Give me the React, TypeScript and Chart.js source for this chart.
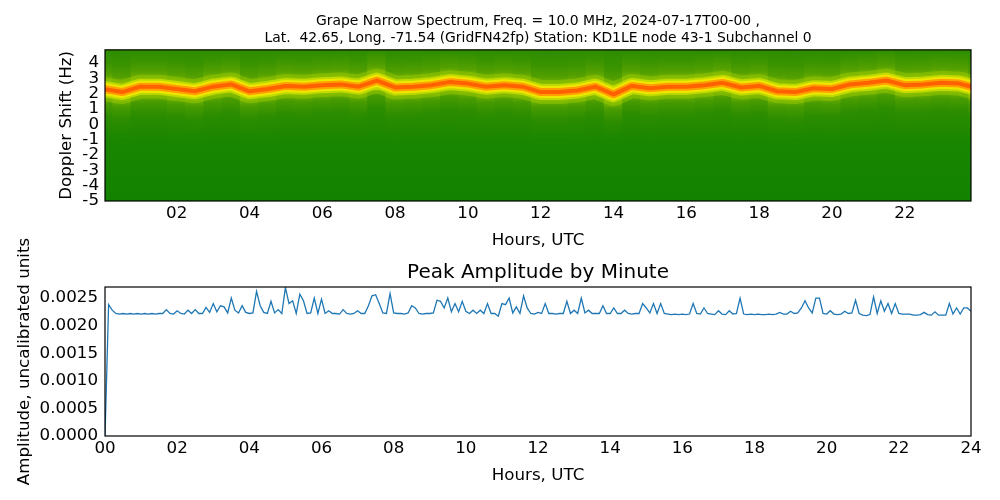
import { useEffect, useRef } from "react";
import { Chart, registerables } from "chart.js";

Chart.register(...registerables);

const FONT = "'DejaVu Sans', sans-serif";

// ---- Spectrogram (top) data ----
const FREQ_MIN = -5;
const FREQ_MAX = 4.85;
const HOUR_MIN_TOP = 0.03;
const HOUR_MAX_TOP = 23.82;
// band (carrier) Doppler centre, sampled every half hour
const bandSampleHours = [
  0, 0.5, 1, 1.5, 2, 2.5, 3, 3.5, 4, 4.5, 5, 5.5,
  6, 6.5, 7, 7.5, 8, 8.5, 9, 9.5, 10, 10.5, 11, 11.5,
  12, 12.5, 13, 13.5, 14, 14.5, 15, 15.5, 16, 16.5, 17, 17.5,
  18, 18.5, 19, 19.5, 20, 20.5, 21, 21.5, 22, 22.5, 23, 23.5, 24,
];
const bandCenterHz = [
  2.3, 2.1, 2.45, 2.45, 2.3, 2.15, 2.45, 2.6, 2.15, 2.3, 2.5, 2.45,
  2.55, 2.6, 2.45, 2.85, 2.4, 2.45, 2.55, 2.75, 2.65, 2.45, 2.55, 2.45,
  2.1, 2.1, 2.2, 2.45, 1.95, 2.5, 2.35, 2.45, 2.45, 2.55, 2.7, 2.4,
  2.5, 2.15, 2.1, 2.35, 2.3, 2.6, 2.7, 2.85, 2.55, 2.6, 2.7, 2.65, 2.35,
];
const freqTicks = [-5, -4, -3, -2, -1, 0, 1, 2, 3, 4];
// band rendering layers: stroke width (px) and colour, outermost first
const bandLayers: [number, string][] = [
  [24, "rgba(175,212,0,0.35)"],
  [16, "rgba(215,228,0,0.7)"],
  [12, "rgb(238,232,0)"],
  [8, "rgb(255,160,0)"],
  [4, "rgb(255,96,0)"],
];

// ---- Peak amplitude (bottom) data, one sample every 6 minutes, units of 1e-5 ----
const AMP_STEP_HOURS = 0.1;
const AMP_UNIT = 1e-5;
const amplitudeE5 = [
  0, 238, 228, 222, 221, 222, 221, 222, 221, 222,
  221, 222, 221, 222, 221, 222, 222, 229, 222, 221,
  227, 222, 221, 228, 222, 229, 222, 222, 233, 224,
  240, 225, 236, 234, 223, 250, 228, 223, 236, 224,
  222, 223, 262, 236, 224, 222, 244, 223, 229, 222,
  269, 240, 245, 222, 257, 245, 222, 223, 250, 222,
  248, 222, 227, 222, 222, 221, 229, 222, 221, 222,
  227, 222, 222, 236, 254, 256, 240, 223, 222, 258,
  223, 222, 222, 221, 223, 236, 232, 222, 221, 222,
  222, 223, 246, 244, 232, 250, 225, 240, 225, 244,
  226, 222, 228, 222, 228, 222, 240, 222, 222, 217,
  240, 238, 250, 223, 234, 222, 254, 232, 222, 221,
  224, 222, 240, 222, 222, 221, 222, 222, 244, 222,
  228, 222, 250, 223, 228, 222, 222, 222, 236, 222,
  222, 232, 222, 222, 228, 222, 221, 222, 222, 240,
  232, 223, 240, 222, 240, 222, 221, 220, 221, 220,
  221, 220, 221, 240, 222, 221, 232, 222, 221, 220,
  227, 221, 220, 227, 221, 222, 250, 221, 220, 221,
  220, 221, 220, 220, 221, 220, 221, 224, 221, 221,
  226, 222, 223, 232, 245, 232, 223, 250, 250, 222,
  221, 227, 221, 220, 221, 226, 222, 223, 246, 222,
  219, 218, 220, 252, 222, 245, 226, 240, 222, 240,
  222, 221, 221, 221, 219, 219, 220, 224, 220, 219,
  225, 219, 219, 219, 240, 221, 232, 221, 232, 232,
  226,
];
const ampTicks = [0, 0.0005, 0.001, 0.0015, 0.002, 0.0025];
const AMP_MAX = 0.0027;

const titleTop = [
  "Grape Narrow Spectrum, Freq. = 10.0 MHz, 2024-07-17T00-00 ,",
  "Lat.  42.65, Long. -71.54 (GridFN42fp) Station: KD1LE node 43-1 Subchannel 0",
];

const framePlugin = {
  id: "frame",
  afterDraw(chart: any) {
    const { ctx, chartArea: a } = chart;
    ctx.save();
    ctx.strokeStyle = "#000";
    ctx.lineWidth = 1.2;
    ctx.strokeRect(a.left, a.top, a.right - a.left, a.bottom - a.top);
    ctx.restore();
  },
};

function haloFill(ctx: any) {
  const chart = ctx.chart;
  const y = chart.scales && chart.scales.y;
  if (ctx.type !== "data" || !y || !chart.chartArea) return "rgb(18,130,0)";
  const c = bandCenterHz[ctx.dataIndex];
  const p0 = y.getPixelForValue(FREQ_MIN);
  const p1 = y.getPixelForValue(FREQ_MAX);
  const g = chart.ctx.createLinearGradient(0, p0, 0, p1);
  const pos = (v: number) =>
    Math.min(1, Math.max(0, (v - FREQ_MIN) / (FREQ_MAX - FREQ_MIN)));
  const stops: [number, string][] = [
    [FREQ_MIN, "rgb(18,130,0)"],
    [-1.0, "rgb(26,134,0)"],
    [c - 1.8, "rgb(44,141,0)"],
    [c - 1.0, "rgb(72,155,0)"],
    [c - 0.5, "rgb(118,180,0)"],
    [c, "rgb(150,198,0)"],
    [c + 0.5, "rgb(118,180,0)"],
    [c + 1.0, "rgb(82,159,0)"],
    [c + 1.7, "rgb(58,148,0)"],
    [FREQ_MAX, "rgb(44,141,0)"],
  ];
  for (const [v, col] of stops) g.addColorStop(pos(v), col);
  return g;
}

const tickFont = { family: FONT, size: 16.7 };
const labelFont = { family: FONT, size: 16.7 };

export default function App() {
  const topRef = useRef<HTMLCanvasElement>(null);
  const botRef = useRef<HTMLCanvasElement>(null);

  useEffect(() => {
    const bandPoints = bandSampleHours.map((h, i) => ({ x: h, y: bandCenterHz[i] }));
    const lineSets = bandLayers.map(([w, col], k) => ({
      type: "line",
      data: bandPoints,
      borderColor: col,
      borderWidth: w,
      borderJoinStyle: "round",
      borderCapStyle: "round",
      pointRadius: 0,
      tension: 0,
      fill: false,
      order: bandLayers.length - k,
    }));

    const top = new Chart(topRef.current as HTMLCanvasElement, {
      type: "bar",
      data: {
        datasets: [
          {
            type: "bar",
            data: bandSampleHours.map((h) => ({ x: h, y: [FREQ_MIN, FREQ_MAX] })) as any,
            backgroundColor: haloFill as any,
            borderWidth: 0,
            barPercentage: 1,
            categoryPercentage: 1,
            grouped: false,
            inflateAmount: 0.6,
            order: 20,
          } as any,
          ...(lineSets as any[]),
        ],
      },
      options: {
        animation: false,
        responsive: false,
        devicePixelRatio: 1,
        layout: { padding: { left: 0, right: 29, top: 0, bottom: 0 } },
        plugins: {
          legend: { display: false },
          tooltip: { enabled: false },
          title: {
            display: true,
            text: titleTop,
            fullSize: false,
            color: "#000",
            font: { family: FONT, size: 13.9, weight: "normal", lineHeight: 1.2 },
            padding: { top: 13.5, bottom: 3 },
          },
        },
        scales: {
          x: {
            type: "linear",
            offset: false,
            min: HOUR_MIN_TOP,
            max: HOUR_MAX_TOP,
            grid: { display: false, drawTicks: false },
            border: { display: false },
            afterFit: (s: any) => {
              s.height = 59;
            },
            ticks: {
              stepSize: 2,
              includeBounds: false,
              autoSkip: false,
              maxRotation: 0,
              padding: 3,
              color: "#000",
              font: tickFont,
              callback: (v: any) => String(v).padStart(2, "0"),
            },
            title: {
              display: true,
              text: "Hours, UTC",
              color: "#000",
              font: labelFont,
              padding: { top: 0, bottom: 9 },
            },
          },
          y: {
            type: "linear",
            min: FREQ_MIN,
            max: FREQ_MAX,
            grid: { display: false, drawTicks: false },
            border: { display: false },
            afterFit: (s: any) => {
              s.width = 105;
            },
            afterBuildTicks: (s: any) => {
              s.ticks = freqTicks.map((v) => ({ value: v }));
            },
            ticks: {
              padding: 6,
              autoSkip: false,
              color: "#000",
              font: tickFont,
              callback: (v: any) => String(v),
            },
            title: {
              display: true,
              text: "Doppler Shift (Hz)",
              color: "#000",
              font: labelFont,
              padding: { top: 57, bottom: 0 },
            },
          },
        },
      } as any,
      plugins: [framePlugin],
    });

    const bot = new Chart(botRef.current as HTMLCanvasElement, {
      type: "line",
      data: {
        datasets: [
          {
            data: amplitudeE5.map((v, i) => ({ x: i * AMP_STEP_HOURS, y: v * AMP_UNIT })),
            borderColor: "#1f77b4",
            borderWidth: 1.3,
            pointRadius: 0,
            tension: 0,
            fill: false,
          },
        ],
      },
      options: {
        animation: false,
        responsive: false,
        devicePixelRatio: 1,
        layout: { padding: { left: 0, right: 29, top: 0, bottom: 0 } },
        plugins: {
          legend: { display: false },
          tooltip: { enabled: false },
          title: {
            display: true,
            text: "Peak Amplitude by Minute",
            fullSize: false,
            color: "#000",
            font: { family: FONT, size: 20, weight: "normal", lineHeight: 1.2 },
            padding: { top: 31, bottom: 2 },
          },
        },
        scales: {
          x: {
            type: "linear",
            min: 0,
            max: 24,
            grid: { display: false, drawTicks: false },
            border: { display: false },
            afterFit: (s: any) => {
              s.height = 64;
            },
            ticks: {
              stepSize: 2,
              includeBounds: false,
              autoSkip: false,
              maxRotation: 0,
              padding: 3,
              color: "#000",
              font: tickFont,
              callback: (v: any) => String(v).padStart(2, "0"),
            },
            title: {
              display: true,
              text: "Hours, UTC",
              color: "#000",
              font: labelFont,
              padding: { top: 0, bottom: 14 },
            },
          },
          y: {
            type: "linear",
            min: 0,
            max: AMP_MAX,
            grid: { display: false, drawTicks: false },
            border: { display: false },
            afterFit: (s: any) => {
              s.width = 105;
            },
            afterBuildTicks: (s: any) => {
              s.ticks = ampTicks.map((v) => ({ value: v }));
            },
            ticks: {
              padding: 7,
              autoSkip: false,
              color: "#000",
              font: tickFont,
              callback: (v: any) => Number(v).toFixed(4),
            },
            title: {
              display: true,
              text: "Amplitude, uncalibrated units",
              color: "#000",
              font: labelFont,
              padding: { top: 15, bottom: 0 },
            },
          },
        },
      } as any,
      plugins: [framePlugin],
    });

    return () => {
      top.destroy();
      bot.destroy();
    };
  }, []);

  return (
    <div style={{ position: "absolute", left: 0, top: 0, width: 1000, height: 500, background: "#fff" }}>
      <canvas
        ref={topRef}
        width={1000}
        height={260}
        style={{ position: "absolute", left: 0, top: 0, width: 1000, height: 260 }}
      />
      <canvas
        ref={botRef}
        width={1000}
        height={270}
        style={{ position: "absolute", left: 0, top: 230, width: 1000, height: 270 }}
      />
    </div>
  );
}
